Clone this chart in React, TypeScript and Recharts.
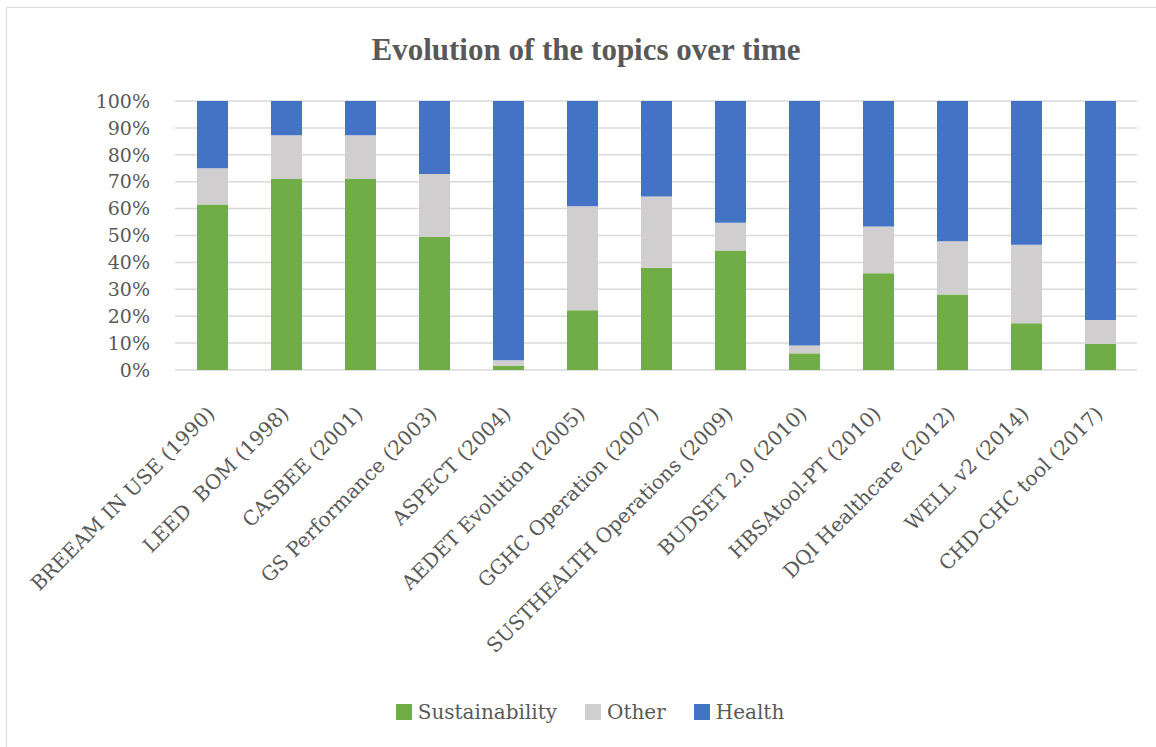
import React from 'react';
import { BarChart, Bar, XAxis, YAxis, CartesianGrid, Legend } from 'recharts';

const categories = [
  'BREEAM IN USE (1990)',
  'LEED  BOM (1998)',
  'CASBEE (2001)',
  'GS Performance (2003)',
  'ASPECT (2004)',
  'AEDET Evolution (2005)',
  'GGHC Operation (2007)',
  'SUSTHEALTH Operations (2009)',
  'BUDSET 2.0 (2010)',
  'HBSAtool-PT (2010)',
  'DQI Healthcare (2012)',
  'WELL v2 (2014)',
  'CHD-CHC tool (2017)',
];
const sustainability = [61.5, 71, 71, 49.5, 1.6, 22.2, 38, 44.4, 6.2, 36, 28.1, 17.4, 9.7];
const other = [13.5, 16.3, 16.3, 23.4, 2, 38.7, 26.5, 10.3, 2.9, 17.3, 19.8, 29.2, 8.9];
const health = [25, 12.7, 12.7, 27.1, 96.4, 39.1, 35.5, 45.3, 90.9, 46.7, 52.1, 53.4, 81.4];
const yTicks = [0, 10, 20, 30, 40, 50, 60, 70, 80, 90, 100];

const seriesNames = ['Sustainability', 'Other', 'Health'];
const seriesColors = ['#70ad47', '#d0cece', '#4472c4'];

const data = categories.map((name, i) => ({
  name,
  sustainability: sustainability[i],
  other: other[i],
  health: health[i],
}));

const FONT = '"DejaVu Serif", serif';
const TEXT = '#595959';

const XTick = (props: any) => {
  const { x, y, payload } = props;
  return (
    <g transform={`translate(${x + 4},${y + 45})`}>
      <text
        x={0}
        y={0}
        textAnchor="end"
        transform="rotate(-45)"
        fill={TEXT}
        fontSize={20}
        fontFamily={FONT}
        style={{ whiteSpace: 'pre' }}
      >
        {payload.value}
      </text>
    </g>
  );
};

const renderLegend = () => (
  <div
    style={{
      display: 'flex',
      justifyContent: 'center',
      alignItems: 'center',
      height: 30,
      paddingLeft: 36,
      gap: 28,
      fontFamily: FONT,
      fontSize: 20,
      color: TEXT,
    }}
  >
    {seriesNames.map((label, i) => (
      <div key={label} style={{ display: 'flex', alignItems: 'center' }}>
        <span
          style={{
            display: 'inline-block',
            width: 16,
            height: 16,
            background: seriesColors[i],
            marginRight: 6,
          }}
        />
        <span>{label}</span>
      </div>
    ))}
  </div>
);

export default function App() {
  return (
    <div
      style={{
        position: 'absolute',
        left: 6,
        top: 7,
        width: 1150,
        height: 740,
        borderLeft: '1px solid #d9d9d9',
        borderTop: '1px solid #d9d9d9',
        background: '#fff',
      }}
    >
      <div
        style={{
          position: 'absolute',
          top: 26,
          left: 0,
          width: 1158,
          textAlign: 'center',
          fontFamily: '"Liberation Serif", serif',
          fontWeight: 'bold',
          fontSize: 31,
          lineHeight: '31px',
          color: TEXT,
        }}
      >
        Evolution of the topics over time
      </div>
      <BarChart
        width={1149}
        height={739}
        data={data}
        margin={{ top: 93, right: 19, left: 0, bottom: 20 }}
        barSize={31}
      >
        <CartesianGrid vertical={false} stroke="#d9d9d9" strokeWidth={1.5} />
        <XAxis
          dataKey="name"
          interval={0}
          tick={<XTick />}
          tickLine={false}
          axisLine={false}
          tickSize={0}
          tickMargin={0}
          height={327}
        />
        <YAxis
          domain={[0, 100]}
          ticks={yTicks}
          tickFormatter={(v: number) => `${v}%`}
          width={168}
          tickLine={false}
          axisLine={false}
          tickSize={0}
          tickMargin={25}
          tick={{ fill: TEXT, fontSize: 19, fontFamily: FONT }}
          interval={0}
        />
        <Legend verticalAlign="bottom" content={renderLegend} />
        <Bar dataKey="sustainability" name={seriesNames[0]} stackId="a" fill={seriesColors[0]} isAnimationActive={false} />
        <Bar dataKey="other" name={seriesNames[1]} stackId="a" fill={seriesColors[1]} isAnimationActive={false} />
        <Bar dataKey="health" name={seriesNames[2]} stackId="a" fill={seriesColors[2]} isAnimationActive={false} />
      </BarChart>
    </div>
  );
}
